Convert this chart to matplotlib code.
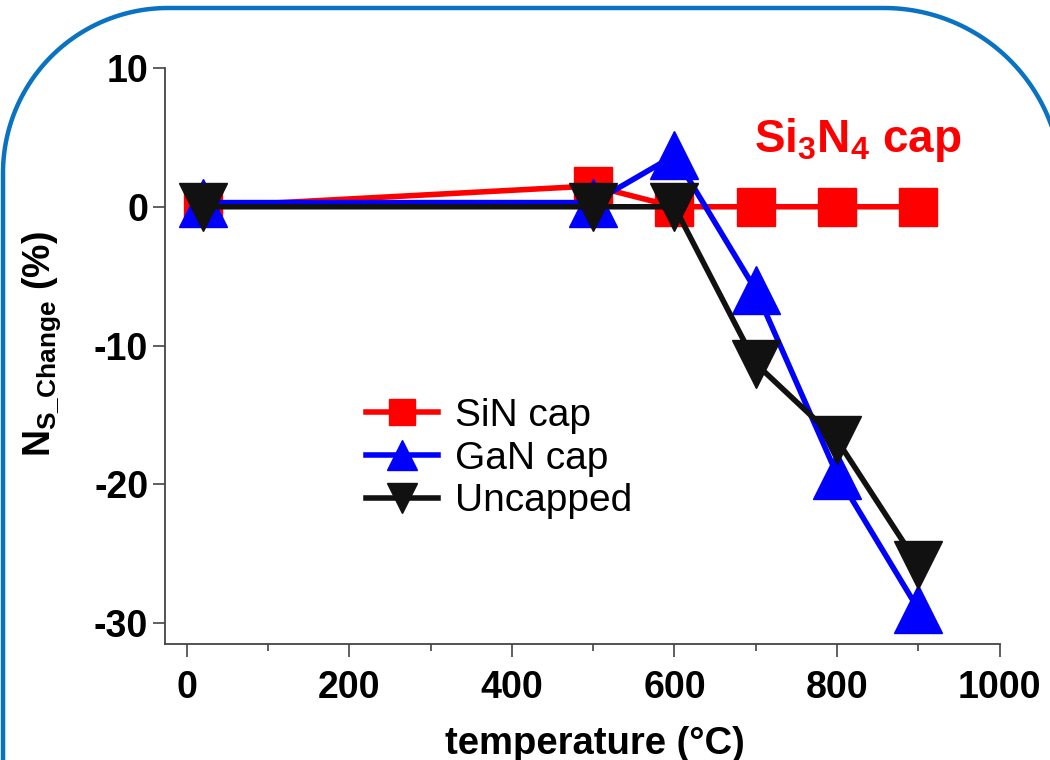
import matplotlib
matplotlib.use('Agg')
import numpy as np
import matplotlib.pyplot as plt
from matplotlib.lines import Line2D
from matplotlib.transforms import IdentityTransform
from matplotlib.ticker import MultipleLocator

plt.rcParams['font.family'] = ['Liberation Sans', 'DejaVu Sans']
plt.rcParams['mathtext.default'] = 'regular'
plt.rcParams['axes.unicode_minus'] = False

# data
temps = [20, 500, 600, 700, 800, 900]
sin_cap = [0, 1.5, 0, 0, 0, 0]
gan_cap = [0.3, 0.3, 3.7, -6.0, -19.3, -29.0]
uncapped = [0, 0, 0, -11.3, -16.8, -25.8]
labels = ['SiN cap', 'GaN cap', 'Uncapped']

fig = plt.figure(figsize=(10.5, 7.6), dpi=100)
ax = fig.add_axes([0.157, 0.1526, 0.795, 0.758])

# rounded blue frame with circular corners, pixel coords (y up)
left, top, right = 3, 752, 1062
rl, rr = 165, 178
a1 = np.linspace(np.pi, np.pi / 2, 60)
a2 = np.linspace(np.pi / 2, 0, 60)
fx = np.concatenate([[left], left + rl + rl * np.cos(a1),
                     right - rr + rr * np.cos(a2), [right]])
fy = np.concatenate([[-50], top - rl + rl * np.sin(a1),
                     top - rr + rr * np.sin(a2), [-50]])
fig.lines.append(Line2D(fx, fy, transform=IdentityTransform(),
                        color='#0a72c2', lw=3.2, zorder=0))

ax.plot(temps, sin_cap, color='#ff0000', lw=4, marker='s', ms=28,
        label=labels[0], zorder=3)
ax.plot(temps, gan_cap, color='#0000ff', lw=4, marker='^', ms=34,
        label=labels[1], zorder=4)
ax.plot(temps, uncapped, color='#111111', lw=4, marker='v', ms=34,
        label=labels[2], zorder=5)

ax.set_xlim(-27, 1000)
ax.set_ylim(-31.5, 10)
ax.xaxis.set_major_locator(MultipleLocator(200))
ax.xaxis.set_minor_locator(MultipleLocator(100))
ax.yaxis.set_major_locator(MultipleLocator(10))

for s in ['top', 'right']:
    ax.spines[s].set_visible(False)
for s in ['left', 'bottom']:
    ax.spines[s].set_color('#444444')
    ax.spines[s].set_linewidth(1.3)

ax.tick_params(axis='both', which='major', direction='out', length=9,
               width=1.2, color='#444444', labelsize=27)
ax.tick_params(axis='x', which='major', pad=10)
ax.tick_params(axis='y', which='major', pad=3)
ax.tick_params(axis='x', which='minor', direction='out', length=5,
               width=1.2, color='#444444')
for t in ax.get_xticklabels() + ax.get_yticklabels():
    t.set_fontweight('bold')

ax.set_xlabel('temperature (°C)', fontsize=27.5, fontweight='bold', labelpad=14)
ax.xaxis.label.set_x(0.515)
ax.set_ylabel('N$_{S\\_Change}$ (%)', fontsize=27, fontweight='bold', labelpad=22)
ax.yaxis.label.set_y(0.52)

ax.text(826, 4.8, 'Si$_3$N$_4$ cap', color='#ff0000', fontsize=33,
        fontweight='bold', ha='center', va='center')

ax.legend(loc='center left', bbox_to_anchor=(0.2405, 0.322), frameon=False,
          fontsize=28, markerscale=0.65, handlelength=1.85,
          handletextpad=0.45, labelspacing=0.17, borderpad=0,
          borderaxespad=0)

fig.savefig('out.png', dpi=100)
